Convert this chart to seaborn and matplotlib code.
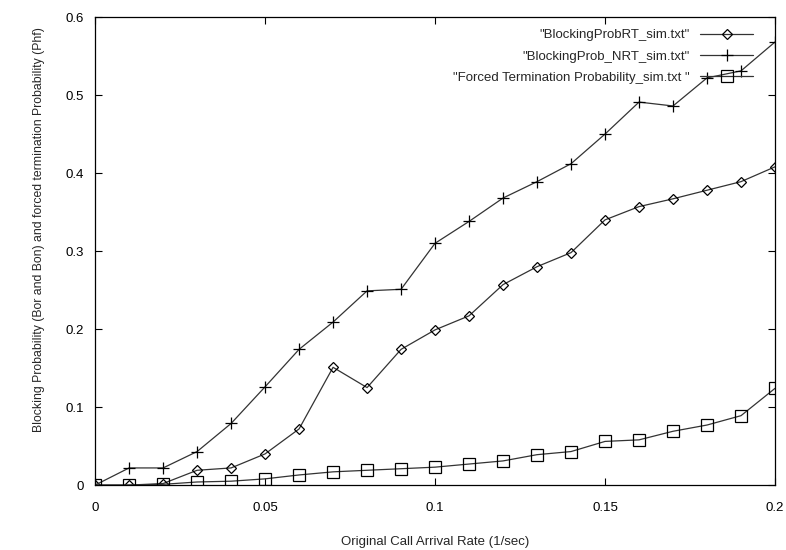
import numpy as np
import pandas as pd
import matplotlib
matplotlib.use('Agg')
import matplotlib.pyplot as plt
import seaborn as sns

#data
rate=[0.0,0.01,0.02,0.03,0.04,0.05,0.06,0.07,0.08,0.09,0.1,
      0.11,0.12,0.13,0.14,0.15,0.16,0.17,0.18,0.19,0.2]
block_rt=[0.0,0.0,0.002,0.019,0.022,0.040,0.072,0.151,0.125,0.174,0.199,
          0.217,0.257,0.280,0.298,0.340,0.357,0.367,0.378,0.389,0.408]
block_nrt=[0.0,0.022,0.022,0.043,0.079,0.126,0.174,0.209,0.249,0.251,0.310,
           0.338,0.368,0.389,0.412,0.450,0.491,0.486,0.522,0.531,0.568]
forced=[0.0,0.0,0.001,0.004,0.005,0.008,0.013,0.017,0.019,0.021,0.023,
        0.027,0.031,0.039,0.043,0.056,0.058,0.069,0.077,0.089,0.124]
labels=['"BlockingProbRT_sim.txt"','"BlockingProb_NRT_sim.txt"',
        '"Forced Termination Probability_sim.txt "']
xticks=[0,0.05,0.1,0.15,0.2]
yticks=[0,0.1,0.2,0.3,0.4,0.5,0.6]

sns.set_style('ticks')
plt.rcParams['font.family']=['Liberation Sans','DejaVu Sans']
plt.rcParams['font.size']=9.5

fig=plt.figure(figsize=(7.86,5.5),dpi=100)
ax=fig.add_axes([0.121,0.118,0.865,0.851])

markers=['D','+','s']
sizes=[5.5,9,8]
for vals,lab,m,ms in zip([block_rt,block_nrt,forced],labels,markers,sizes):
    df=pd.DataFrame({'x':rate,'y':vals})
    sns.lineplot(data=df,x='x',y='y',ax=ax,color='#333333',linewidth=0.9,
                 marker=m,markersize=ms,markerfacecolor='none',
                 markeredgecolor='black',markeredgewidth=0.9,label=lab)

ax.set_xlim(0,0.2)
ax.set_ylim(0,0.6)
ax.set_xticks(xticks)
ax.set_xticklabels(['0','0.05','0.1','0.15','0.2'])
ax.set_yticks(yticks)
ax.set_yticklabels(['0','0.1','0.2','0.3','0.4','0.5','0.6'])
ax.tick_params(direction='in',top=True,right=True,length=5,width=0.8,colors='black')
ax.tick_params(axis='x',pad=12)
ax.tick_params(axis='y',pad=8)
for s in ax.spines.values():
    s.set_visible(True)
    s.set_linewidth(0.9)
    s.set_color('black')
ax.set_xlabel('Original Call Arrival Rate (1/sec)',labelpad=16)
ax.set_ylabel('Blocking Probability (Bor and Bon) and forced termination Probability (Phf)',
              fontsize=8.8)
ax.yaxis.set_label_coords(-0.074,0.545)

ax.legend(loc='upper right',bbox_to_anchor=(0.985,1.0),frameon=False,markerfirst=False,
          handlelength=4,handletextpad=0.8,labelspacing=0.7,fontsize=9.5)

fig.savefig('out.png',dpi=100)
